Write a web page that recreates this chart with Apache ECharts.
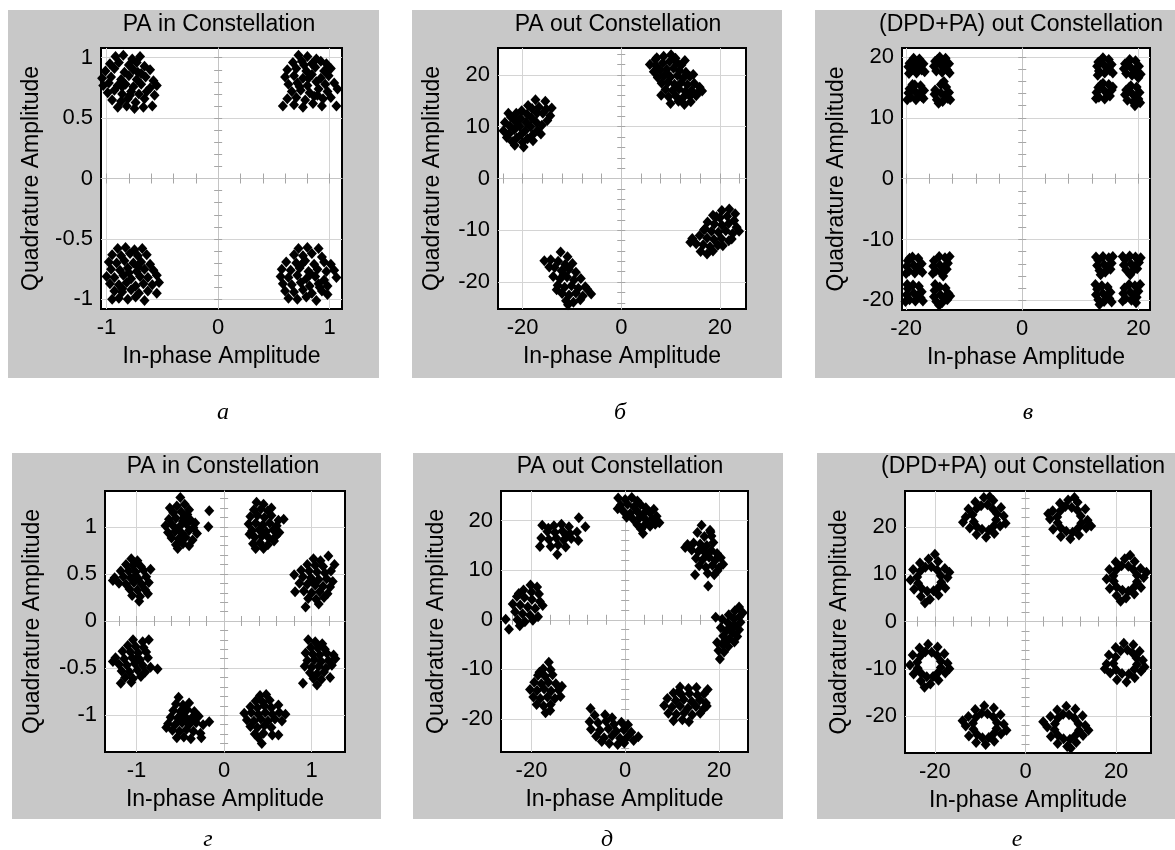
<!DOCTYPE html>
<html><head><meta charset="utf-8">
<script src="https://cdn.jsdelivr.net/npm/echarts@6/dist/echarts.min.js"></script>
<style>html,body{margin:0;padding:0;background:#fff}#c{width:1175px;height:850px}</style>
</head><body><div id="c"></div>
<script>
// ---------------- DATA ----------------
const titles = ['PA in Constellation','PA out Constellation','(DPD+PA) out Constellation','PA in Constellation','PA out Constellation','(DPD+PA) out Constellation'];
const captions = ['а','б','в','г','д','е'];
const xName = 'In-phase Amplitude';
const yName = 'Quadrature Amplitude';

// axis ranges [min,max]
const xRanges = [[-1.05,1.11],[-25,25.3],[-20.7,22.0],[-1.36,1.38],[-26.5,26.2],[-26.6,27.7]];
const yRanges = [[-1.08,1.08],[-25.2,25.2],[-21.6,21.5],[-1.39,1.38],[-26.7,26.0],[-27.8,27.6]];

// labelled ticks
const xLabelsA = [-1,0,1], yLabelsA = [-1,-0.5,0,0.5,1];
const xLabelsB = [-20,0,20], yLabelsB = [-20,-10,0,10,20];
const xLabelsV = [-20,0,20], yLabelsV = [-20,-10,0,10,20];
const xLabelsG = [-1,0,1], yLabelsG = [-1,-0.5,0,0.5,1];
const xLabelsD = [-20,0,20], yLabelsD = [-20,-10,0,10,20];
const xLabelsE = [-20,0,20], yLabelsE = [-20,-10,0,10,20];

// minor ticks on the centre cross
const xMinorA = [-1,-0.8,-0.6,-0.4,-0.2,0.2,0.4,0.6,0.8,1];
const yMinorA = [-1,-0.9,-0.8,-0.7,-0.6,-0.5,-0.4,-0.3,-0.2,-0.1,0.1,0.2,0.3,0.4,0.5,0.6,0.7,0.8,0.9,1];
const xMinorB = [-24,-20,-16,-12,-8,-4,4,8,12,16,20,24];
const yMinorB = [-24,-22,-20,-18,-16,-14,-12,-10,-8,-6,-4,-2,2,4,6,8,10,12,14,16,18,20,22,24];
const xMinorV = [-20,-16,-12,-8,-4,4,8,12,16,20];
const yMinorV = [-20,-18,-16,-14,-12,-10,-8,-6,-4,-2,2,4,6,8,10,12,14,16,18,20];
const xMinorG = [-1.2,-1,-0.8,-0.6,-0.4,-0.2,0.2,0.4,0.6,0.8,1,1.2];
const yMinorG = [-1.3,-1.2,-1.1,-1,-0.9,-0.8,-0.7,-0.6,-0.5,-0.4,-0.3,-0.2,-0.1,0.1,0.2,0.3,0.4,0.5,0.6,0.7,0.8,0.9,1,1.1,1.2,1.3];
const xMinorD = [-24,-20,-16,-12,-8,-4,4,8,12,16,20,24];
const yMinorD = [-26,-24,-22,-20,-18,-16,-14,-12,-10,-8,-6,-4,-2,2,4,6,8,10,12,14,16,18,20,22,24];
const xMinorE = [-24,-20,-16,-12,-8,-4,4,8,12,16,20,24];
const yMinorE = [-26,-24,-22,-20,-18,-16,-14,-12,-10,-8,-6,-4,-2,2,4,6,8,10,12,14,16,18,20,22,24,26];

// а : PA in (QPSK)
const ptsA = [
[-0.92,1.01],[-0.85,1.02],[-0.77,0.99],[-0.70,1.01],[-0.97,0.95],[-0.89,0.96],[-0.80,0.94],[-0.73,0.96],[-0.66,0.93],[-1.01,0.89],[-0.93,0.91],[-0.84,0.88],[-0.76,0.90],[-0.69,0.87],[-0.61,0.90],[-1.04,0.83],[-0.96,0.84],[-0.87,0.82],[-0.80,0.85],[-0.73,0.82],[-0.65,0.84],[-0.58,0.81],[-1.03,0.77],[-0.98,0.79],[-0.90,0.77],[-0.83,0.78],[-0.76,0.76],[-0.69,0.78],[-0.61,0.75],[-0.55,0.77],[-0.99,0.71],[-0.93,0.73],[-0.86,0.70],[-0.78,0.72],[-0.71,0.70],[-0.64,0.72],[-0.57,0.69],[-0.95,0.65],[-0.87,0.64],[-0.81,0.66],[-0.74,0.63],[-0.66,0.66],[-0.90,0.59],[-0.82,0.60],[-0.75,0.58],[-0.67,0.59],[-0.59,0.60],[-0.86,0.76],[-0.79,0.69],[-0.72,0.88],
[0.72,1.02],[0.80,1.01],[0.88,0.99],[0.67,0.96],[0.75,0.97],[0.84,0.95],[0.92,0.97],[0.62,0.90],[0.70,0.91],[0.79,0.89],[0.87,0.92],[0.95,0.89],[1.01,0.91],[0.60,0.84],[0.68,0.85],[0.76,0.83],[0.84,0.86],[0.92,0.83],[0.99,0.85],[0.63,0.78],[0.71,0.79],[0.80,0.77],[0.88,0.80],[0.96,0.78],[1.04,0.79],[0.66,0.72],[0.74,0.73],[0.82,0.71],[0.90,0.74],[0.98,0.72],[1.07,0.74],[0.62,0.66],[0.70,0.67],[0.78,0.65],[0.86,0.68],[0.94,0.66],[1.01,0.67],[0.58,0.60],[0.68,0.61],[0.76,0.59],[0.85,0.62],[0.93,0.60],[1.06,0.60],[0.81,0.83],[0.73,0.76],[0.89,0.69],[0.77,0.94],[0.97,0.95],
[-0.90,-0.58],[-0.83,-0.57],[-0.75,-0.59],[-0.68,-0.58],[-0.95,-0.63],[-0.87,-0.64],[-0.79,-0.62],[-0.72,-0.64],[-0.64,-0.63],[-0.98,-0.69],[-0.91,-0.70],[-0.84,-0.68],[-0.76,-0.70],[-0.69,-0.69],[-0.61,-0.71],[-0.96,-0.75],[-0.88,-0.76],[-0.81,-0.74],[-0.73,-0.77],[-0.66,-0.75],[-0.58,-0.76],[-1.00,-0.81],[-0.93,-0.82],[-0.85,-0.80],[-0.78,-0.83],[-0.70,-0.81],[-0.63,-0.82],[-0.55,-0.80],[-0.97,-0.87],[-0.89,-0.88],[-0.82,-0.86],[-0.74,-0.89],[-0.67,-0.87],[-0.59,-0.88],[-0.53,-0.86],[-0.93,-0.93],[-0.86,-0.94],[-0.78,-0.92],[-0.71,-0.95],[-0.63,-0.93],[-0.55,-0.95],[-0.89,-0.99],[-0.81,-1.00],[-0.74,-0.98],[-0.66,-1.01],[-0.95,-1.00],[-0.80,-0.78],[-0.72,-0.73],[-0.86,-0.91],
[0.72,-0.58],[0.80,-0.57],[0.90,-0.58],[0.68,-0.63],[0.76,-0.64],[0.84,-0.62],[0.93,-0.65],[0.61,-0.69],[0.70,-0.70],[0.78,-0.68],[0.86,-0.71],[0.95,-0.69],[0.57,-0.75],[0.65,-0.76],[0.73,-0.74],[0.81,-0.77],[0.89,-0.75],[0.97,-0.77],[1.04,-0.76],[0.56,-0.81],[0.63,-0.82],[0.71,-0.80],[0.79,-0.83],[0.87,-0.81],[0.95,-0.84],[1.06,-0.82],[0.58,-0.87],[0.66,-0.88],[0.74,-0.86],[0.82,-0.89],[0.90,-0.87],[0.98,-0.89],[0.60,-0.93],[0.68,-0.94],[0.76,-0.92],[0.84,-0.95],[0.93,-0.93],[0.63,-0.99],[0.71,-1.00],[0.79,-0.98],[0.88,-1.01],[0.98,-0.96],[0.83,-0.79],[0.75,-0.71],[0.91,-0.90],[1.01,-0.71]
];

// б : PA out
const ptsB = [
[7.2,23.3],[8.6,23.6],[10.1,23.9],[11.0,23.2],[5.8,22.0],[7.0,21.8],[8.4,22.3],[9.8,22.6],[11.3,22.4],[12.2,21.9],[6.6,20.6],[7.9,20.9],[9.2,21.1],[10.6,21.3],[11.8,20.8],[13.1,20.5],[7.4,19.5],[8.7,19.8],[10.0,19.6],[11.4,19.9],[12.6,19.4],[13.9,19.7],[8.2,18.4],[9.5,18.6],[10.8,18.2],[12.1,18.5],[13.4,18.1],[14.8,18.4],[15.9,17.6],[9.0,17.2],[10.4,17.0],[11.7,17.3],[13.0,16.8],[14.3,17.0],[15.5,16.5],[16.4,16.9],[9.6,15.8],[11.1,15.9],[12.5,15.6],[13.9,15.9],[15.2,16.0],[10.0,14.5],[11.6,14.9],[12.8,14.3],[9.3,20.3],[12.9,22.8],[14.6,20.1],[6.9,23.0],[8.1,16.1],[14.1,14.8],
[-23.6,10.8],[-23.9,9.2],[-23.2,7.9],[-22.4,11.9],[-22.6,10.1],[-22.8,8.6],[-22.1,7.1],[-21.3,12.6],[-21.5,11.0],[-21.7,9.4],[-21.2,7.8],[-21.6,6.4],[-20.2,13.1],[-20.4,11.6],[-20.6,10.1],[-20.3,8.5],[-20.0,7.0],[-19.1,12.4],[-19.3,10.8],[-19.5,9.2],[-19.0,7.7],[-18.1,13.5],[-18.2,11.7],[-18.4,10.0],[-18.0,8.4],[-17.1,12.6],[-17.3,10.9],[-17.0,9.3],[-16.3,8.6],[-17.4,15.2],[-16.7,13.8],[-15.9,12.6],[-15.4,14.9],[-15.2,13.4],[-14.4,12.1],[-14.1,13.6],[-15.0,11.2],[-16.1,10.3],[-18.9,14.1],[-22.9,12.6],[-19.8,6.1],[-17.9,7.3],
[20.4,-6.2],[21.9,-5.9],[23.1,-6.8],[18.6,-7.1],[20.0,-7.6],[21.5,-7.3],[22.9,-8.1],[17.5,-8.4],[18.9,-8.8],[20.4,-9.0],[21.8,-8.7],[23.4,-9.4],[16.8,-9.9],[18.3,-10.2],[19.7,-10.4],[21.2,-10.1],[22.6,-10.6],[23.9,-10.2],[15.9,-11.0],[17.4,-11.5],[18.8,-11.8],[20.3,-11.6],[21.8,-12.0],[14.4,-11.6],[15.2,-12.6],[16.6,-12.8],[18.0,-13.2],[19.6,-12.9],[16.1,-14.1],[17.4,-14.6],[14.0,-12.3],[19.3,-7.4],[22.4,-11.7],[20.6,-13.0],[17.0,-9.7],[18.6,-14.0],
[-12.3,-14.2],[-10.9,-15.1],[-15.6,-15.9],[-14.3,-15.7],[-12.8,-16.0],[-11.4,-16.6],[-13.5,-17.2],[-12.1,-17.8],[-10.6,-17.5],[-9.2,-18.1],[-13.8,-18.9],[-12.4,-19.4],[-11.0,-19.0],[-9.6,-19.6],[-8.2,-19.3],[-12.9,-20.6],[-11.5,-21.0],[-10.1,-20.7],[-8.7,-21.2],[-7.3,-20.9],[-12.0,-22.2],[-10.6,-22.5],[-9.2,-22.1],[-7.8,-22.7],[-6.1,-22.3],[-11.2,-23.6],[-9.7,-23.9],[-8.3,-23.4],[-10.8,-24.4],[-14.6,-17.1],[-13.1,-21.5],[-6.9,-21.4],[-9.9,-16.4],[-11.7,-18.5]
];

// в : (DPD+PA) out, 16-point pattern
const ptsV = [
[-19.4,19.0],[-18.7,19.8],[-17.7,19.7],[-17.0,18.9],[-17.3,17.9],[-18.2,17.4],[-19.1,17.8],[-19.6,18.4],[-18.5,18.7],[-17.8,18.4],[-18.9,19.4],[-18.1,19.2],[-16.8,17.6],[-19.5,17.3],
[-15.0,19.3],[-14.2,20.0],[-13.2,19.8],[-12.6,18.9],[-12.9,17.9],[-13.8,17.5],[-14.8,17.7],[-15.2,18.5],[-14.1,18.8],[-13.4,18.3],[-14.6,19.6],[-13.7,19.3],[-12.5,17.4],
[-19.4,14.8],[-18.5,15.4],[-17.5,15.3],[-16.9,14.5],[-17.3,13.5],[-18.3,13.0],[-19.2,13.4],[-19.6,14.1],[-18.4,14.3],[-17.7,14.0],[-18.9,15.5],[-17.0,13.2],[-19.8,13.0],
[-15.0,14.6],[-14.0,15.5],[-13.1,15.1],[-12.6,14.2],[-12.8,13.2],[-13.7,12.7],[-14.7,13.0],[-15.1,13.9],[-14.0,14.1],[-13.3,13.7],[-13.5,16.0],[-12.4,13.0],[-14.4,12.4],
[13.1,19.2],[13.9,19.9],[14.9,19.6],[15.4,18.8],[15.1,17.8],[14.2,17.4],[13.2,17.7],[12.9,18.5],[14.1,18.7],[14.8,18.2],[13.6,19.5],[15.6,17.4],[13.0,17.0],
[17.7,18.9],[18.5,19.6],[19.5,19.4],[20.1,18.5],[19.8,17.5],[18.9,17.0],[17.9,17.3],[17.5,18.1],[18.7,18.3],[19.4,17.9],[20.4,17.2],[18.3,19.2],[20.0,16.6],
[13.1,15.0],[13.9,15.7],[14.9,15.5],[15.4,14.6],[15.1,13.6],[14.2,13.1],[13.2,13.4],[12.8,14.2],[14.1,14.5],[14.8,14.0],[13.5,15.4],[12.7,13.2],[15.6,15.1],
[17.9,14.6],[18.7,15.3],[19.7,15.1],[20.2,14.2],[20.0,13.1],[19.1,12.6],[18.1,12.9],[17.7,13.8],[18.9,14.0],[19.6,13.6],[20.3,12.5],[18.4,15.0],[19.4,12.0],
[-19.7,-13.5],[-18.9,-12.9],[-17.9,-13.1],[-17.3,-14.0],[-17.6,-15.0],[-18.5,-15.5],[-19.5,-15.2],[-19.9,-14.4],[-18.7,-14.2],[-18.0,-14.6],[-19.4,-13.1],[-17.2,-15.4],[-20.0,-15.6],
[-15.2,-13.5],[-14.3,-12.8],[-13.3,-13.0],[-12.8,-13.9],[-13.0,-14.9],[-13.9,-15.5],[-14.9,-15.2],[-15.3,-14.4],[-14.2,-14.2],[-13.5,-14.6],[-12.5,-12.8],[-15.4,-15.6],[-13.6,-16.0],
[-19.7,-18.1],[-18.8,-17.5],[-17.8,-17.7],[-17.3,-18.6],[-17.5,-19.6],[-18.4,-20.1],[-19.4,-19.9],[-19.9,-19.1],[-18.7,-18.8],[-18.0,-19.2],[-19.8,-17.4],[-17.1,-20.1],[-20.1,-20.2],
[-15.1,-18.4],[-14.2,-17.8],[-13.2,-18.0],[-12.7,-18.9],[-12.9,-19.9],[-13.8,-20.4],[-14.8,-20.2],[-15.2,-19.4],[-14.1,-19.1],[-13.4,-19.5],[-12.4,-19.3],[-15.0,-17.4],[-14.3,-20.8],
[13.1,-13.4],[13.9,-12.8],[14.9,-13.0],[15.4,-13.9],[15.2,-14.9],[14.3,-15.4],[13.3,-15.1],[12.9,-14.3],[14.1,-14.1],[14.8,-14.5],[13.5,-15.8],[15.6,-12.8],[12.7,-12.9],
[17.7,-13.3],[18.5,-12.7],[19.5,-12.9],[20.1,-13.8],[19.8,-14.8],[18.9,-15.3],[17.9,-15.0],[17.5,-14.2],[18.7,-14.0],[19.4,-14.4],[20.4,-13.0],[17.3,-12.8],[18.6,-15.8],
[12.9,-18.2],[13.7,-17.6],[14.7,-17.8],[15.2,-18.7],[15.0,-19.7],[14.1,-20.2],[13.1,-19.9],[12.7,-19.1],[13.9,-18.9],[14.6,-19.3],[12.6,-17.4],[15.4,-20.3],[13.3,-20.7],
[17.6,-18.0],[18.4,-17.4],[19.4,-17.6],[20.0,-18.5],[19.7,-19.5],[18.8,-20.0],[17.8,-19.7],[17.4,-18.9],[18.6,-18.7],[19.3,-19.1],[20.3,-17.4],[17.3,-20.1],[19.6,-20.4]
];

// г : PA in (8PSK)
const ptsG = [
[-0.50,1.31],[-0.54,1.22],[-0.45,1.24],[-0.58,1.15],[-0.49,1.16],[-0.40,1.18],[-0.63,1.08],[-0.55,1.09],[-0.46,1.10],[-0.38,1.07],[-0.67,1.01],[-0.59,1.02],[-0.51,1.00],[-0.43,1.03],[-0.35,0.99],[-0.64,0.94],[-0.56,0.95],[-0.48,0.93],[-0.40,0.96],[-0.31,0.93],[-0.60,0.88],[-0.52,0.87],[-0.44,0.89],[-0.36,0.86],[-0.55,0.81],[-0.47,0.82],[-0.40,0.80],[-0.53,0.77],[-0.17,1.17],[-0.18,1.00],[-0.42,1.13],[-0.62,1.20],[-0.33,1.04],[-0.47,1.06],
[0.37,1.26],[0.45,1.24],[0.34,1.18],[0.42,1.19],[0.50,1.17],[0.30,1.11],[0.38,1.12],[0.46,1.10],[0.54,1.12],[0.62,1.07],[0.68,1.08],[0.28,1.03],[0.36,1.04],[0.44,1.02],[0.52,1.04],[0.60,1.01],[0.32,0.96],[0.40,0.97],[0.48,0.95],[0.56,0.97],[0.63,0.94],[0.35,0.89],[0.43,0.90],[0.51,0.88],[0.59,0.90],[0.33,0.82],[0.41,0.83],[0.50,0.81],[0.36,0.77],[0.45,0.77],[0.54,1.20],[0.29,0.92],[0.57,0.85],
[1.02,0.66],[1.10,0.64],[1.19,0.69],[0.95,0.60],[1.04,0.59],[1.13,0.58],[1.26,0.60],[0.88,0.54],[0.97,0.53],[1.06,0.52],[1.15,0.51],[1.22,0.53],[0.80,0.49],[0.90,0.47],[0.99,0.46],[1.08,0.44],[1.17,0.45],[1.24,0.42],[0.86,0.40],[0.95,0.39],[1.04,0.38],[1.13,0.37],[1.21,0.36],[0.81,0.31],[0.91,0.32],[1.00,0.30],[1.09,0.31],[1.18,0.29],[0.96,0.24],[1.05,0.23],[1.14,0.25],[0.93,0.15],[1.08,0.18],[1.01,0.43],
[0.96,-0.20],[1.04,-0.22],[1.12,-0.24],[0.99,-0.28],[1.07,-0.29],[1.15,-0.30],[0.93,-0.34],[1.01,-0.35],[1.09,-0.36],[1.17,-0.34],[1.25,-0.36],[0.95,-0.42],[1.03,-0.41],[1.11,-0.43],[1.19,-0.42],[1.27,-0.40],[0.92,-0.48],[1.00,-0.49],[1.08,-0.48],[1.16,-0.50],[1.23,-0.47],[0.98,-0.55],[1.06,-0.56],[1.14,-0.54],[1.02,-0.61],[1.11,-0.62],[1.21,-0.60],[0.90,-0.66],[1.06,-0.68],
[0.41,-0.79],[0.48,-0.78],[0.36,-0.85],[0.44,-0.86],[0.52,-0.84],[0.30,-0.91],[0.38,-0.92],[0.46,-0.90],[0.54,-0.92],[0.62,-0.89],[0.23,-0.98],[0.31,-0.97],[0.39,-0.99],[0.47,-0.97],[0.55,-0.99],[0.63,-0.97],[0.70,-0.99],[0.26,-1.05],[0.34,-1.06],[0.42,-1.04],[0.50,-1.06],[0.58,-1.04],[0.66,-1.06],[0.30,-1.12],[0.38,-1.13],[0.46,-1.11],[0.54,-1.13],[0.35,-1.20],[0.45,-1.19],[0.55,-1.21],[0.62,-1.21],[0.43,-1.30],[0.39,-1.24],
[-0.52,-0.81],[-0.55,-0.88],[-0.47,-0.89],[-0.40,-0.87],[-0.58,-0.95],[-0.50,-0.96],[-0.42,-0.94],[-0.34,-0.96],[-0.61,-1.02],[-0.53,-1.03],[-0.45,-1.01],[-0.37,-1.03],[-0.29,-1.01],[-0.64,-1.09],[-0.56,-1.10],[-0.48,-1.08],[-0.40,-1.10],[-0.32,-1.08],[-0.24,-1.10],[-0.17,-1.07],[-0.59,-1.16],[-0.51,-1.17],[-0.43,-1.15],[-0.35,-1.17],[-0.27,-1.19],[-0.54,-1.24],[-0.46,-1.23],[-0.38,-1.25],[-0.66,-1.13],[-0.26,-1.24],[-0.44,-1.05],
[-1.04,-0.20],[-0.93,-0.22],[-0.86,-0.20],[-1.10,-0.26],[-1.01,-0.27],[-0.92,-0.28],[-1.16,-0.32],[-1.07,-0.33],[-0.98,-0.34],[-0.89,-0.33],[-1.24,-0.39],[-1.14,-0.40],[-1.05,-0.39],[-0.96,-0.41],[-0.87,-0.39],[-1.20,-0.46],[-1.11,-0.47],[-1.02,-0.45],[-0.93,-0.47],[-0.84,-0.49],[-0.76,-0.51],[-1.17,-0.53],[-1.08,-0.54],[-0.99,-0.52],[-0.90,-0.54],[-1.13,-0.60],[-1.04,-0.61],[-0.95,-0.59],[-1.18,-0.66],[-1.06,-0.65],[-1.27,-0.43],[-1.00,-0.40],
[-1.06,0.66],[-0.99,0.64],[-1.12,0.60],[-1.04,0.59],[-0.95,0.58],[-1.18,0.53],[-1.09,0.53],[-1.01,0.52],[-0.92,0.54],[-0.84,0.55],[-1.25,0.46],[-1.15,0.47],[-1.07,0.46],[-0.98,0.45],[-0.89,0.47],[-1.20,0.40],[-1.12,0.39],[-1.03,0.41],[-0.94,0.39],[-0.86,0.41],[-1.08,0.34],[-0.99,0.33],[-0.90,0.33],[-1.05,0.27],[-0.96,0.26],[-0.87,0.29],[-0.97,0.21],[-1.27,0.43],[-1.01,0.48]
];

// д : PA out (8PSK)
const ptsD = [
[-1.5,24.6],[0.0,24.3],[1.4,24.7],[2.6,24.0],[-1.0,23.1],[0.5,23.3],[1.9,22.8],[3.3,23.2],[4.4,22.6],[-0.3,21.8],[1.1,21.5],[2.5,21.9],[3.9,21.4],[5.2,21.7],[6.1,22.3],[1.7,20.3],[3.1,20.6],[4.5,20.1],[5.8,20.4],[7.3,19.6],[2.6,19.2],[4.0,19.0],[5.3,18.9],[6.4,19.3],[3.8,17.4],[-1.6,22.4],[0.3,20.7],[3.4,18.3],[6.7,20.9],
[16.3,19.1],[18.1,18.1],[15.4,17.6],[16.9,16.8],[18.4,16.9],[13.3,15.2],[14.6,15.5],[16.0,15.3],[17.4,15.0],[18.8,15.6],[14.2,14.1],[15.6,13.8],[17.0,13.6],[18.4,14.0],[19.6,13.4],[15.1,12.4],[16.5,12.1],[17.9,12.6],[19.2,12.0],[20.4,12.5],[15.8,10.9],[17.2,10.6],[18.6,11.0],[20.0,10.5],[20.9,11.2],[17.6,9.4],[19.0,9.1],[14.9,9.1],[17.7,6.8],[12.8,14.6],[18.2,17.7],[16.2,14.4],[19.7,9.9],
[24.3,2.6],[25.1,1.4],[23.4,1.8],[24.4,0.6],[22.1,1.0],[23.2,0.2],[24.6,-0.5],[19.3,0.5],[20.7,0.1],[21.9,-0.6],[23.3,-1.1],[24.3,-2.0],[20.4,-1.6],[21.6,-2.2],[22.9,-2.6],[23.9,-3.4],[20.9,-3.3],[22.2,-3.9],[23.3,-4.5],[19.6,-4.6],[20.8,-5.0],[22.0,-5.4],[19.9,-6.2],[21.1,-6.5],[20.2,-7.9],[22.5,-1.9],[21.3,-4.2],
[11.7,-13.6],[13.5,-13.9],[15.2,-13.7],[17.6,-14.1],[10.3,-14.8],[12.0,-15.1],[13.7,-14.9],[15.4,-15.2],[16.8,-15.0],[9.0,-15.9],[10.8,-16.3],[12.5,-16.1],[14.2,-16.5],[15.9,-16.2],[17.2,-16.8],[8.3,-17.3],[10.0,-17.6],[11.7,-17.4],[13.4,-17.8],[15.1,-17.5],[16.7,-18.0],[9.2,-18.9],[10.9,-19.1],[12.6,-18.8],[14.3,-19.2],[16.0,-18.9],[10.3,-20.4],[12.2,-20.2],[13.6,-20.6],[17.4,-17.4],[11.4,-14.5],
[-7.4,-17.9],[-6.5,-19.3],[-4.3,-19.2],[-2.8,-19.8],[-7.6,-20.6],[-5.8,-20.8],[-4.1,-20.5],[-2.4,-21.1],[-0.8,-20.7],[0.6,-21.2],[-7.3,-22.1],[-5.4,-22.3],[-3.6,-22.0],[-1.9,-22.5],[-0.3,-22.2],[1.3,-22.7],[2.8,-23.6],[-6.2,-23.5],[-4.5,-23.8],[-2.8,-23.4],[-1.1,-23.9],[0.5,-23.6],[-3.4,-25.0],[-1.6,-25.2],[-0.2,-24.9],[-5.0,-24.6],[1.8,-24.4],
[-16.3,-8.6],[-17.5,-9.9],[-15.9,-10.1],[-18.6,-11.2],[-17.1,-11.4],[-15.5,-11.1],[-19.4,-12.6],[-17.9,-12.9],[-16.4,-12.6],[-14.8,-12.9],[-13.5,-13.4],[-20.3,-14.1],[-18.8,-14.3],[-17.3,-14.0],[-15.8,-14.4],[-14.2,-14.2],[-19.6,-15.6],[-18.1,-15.9],[-16.6,-15.6],[-15.0,-15.9],[-13.8,-15.5],[-18.9,-17.1],[-17.4,-17.4],[-15.9,-17.1],[-17.0,-18.8],[-16.0,-18.3],[-18.3,-10.6],
[-20.2,7.0],[-18.8,6.6],[-21.7,6.0],[-20.0,5.6],[-18.4,5.2],[-23.1,4.7],[-21.5,4.5],[-19.9,4.1],[-18.2,3.7],[-24.0,3.2],[-22.4,3.0],[-20.8,2.6],[-19.2,2.3],[-17.6,2.9],[-23.5,1.6],[-21.9,1.2],[-20.3,0.9],[-18.6,0.6],[-25.5,0.1],[-23.0,0.0],[-21.4,-0.4],[-19.7,-0.1],[-24.8,-1.9],[-22.5,-1.2],[-22.7,5.3],
[-9.9,20.6],[-17.7,19.1],[-15.2,19.0],[-13.6,19.3],[-12.0,18.8],[-8.5,18.8],[-16.6,17.8],[-15.0,17.6],[-13.4,17.9],[-11.8,17.4],[-10.3,17.7],[-17.9,16.5],[-16.3,16.2],[-14.7,16.5],[-13.1,16.1],[-11.5,16.4],[-10.0,16.0],[-18.2,14.8],[-15.9,14.8],[-14.3,15.1],[-12.7,14.7],[-14.5,13.2],[-16.4,18.5],[-12.6,17.0]
];

// е : (DPD+PA) out (8PSK, ring clusters)
const ptsE = [
[-4.8,22.3],[-5.4,24.1],[-7.1,25.6],[-9.2,26.2],[-11.1,25.3],[-12.6,23.8],[-13.2,22.1],[-12.3,19.8],[-10.8,18.4],[-8.7,17.8],[-6.9,18.6],[-5.6,20.2],[-6.3,22.8],[-7.2,23.8],[-8.4,24.7],[-9.8,24.5],[-10.8,23.9],[-11.7,22.6],[-11.4,21.1],[-10.7,20.0],[-9.6,19.5],[-8.1,19.3],[-7.0,20.2],[-6.5,21.5],[-7.9,26.4],[-13.8,21.0],[-4.4,20.8],
[13.7,21.4],[13.2,23.8],[11.5,25.2],[9.4,25.7],[7.6,25.0],[6.0,23.4],[5.4,21.7],[6.1,19.5],[7.8,18.0],[9.9,17.5],[11.8,18.3],[13.4,19.8],[12.2,22.3],[11.4,23.6],[10.2,24.1],[8.8,24.3],[7.7,23.4],[7.0,22.1],[7.1,20.9],[7.8,19.8],[9.0,19.1],[10.4,18.9],[11.6,19.7],[12.3,20.8],[14.5,20.2],[5.0,22.8],[10.8,26.2],
[26.1,9.3],[25.4,11.2],[24.1,12.7],[21.9,13.3],[19.9,12.6],[18.5,11.0],[17.9,9.0],[18.6,7.0],[20.1,5.5],[22.2,5.0],[24.0,5.8],[25.5,7.2],[24.6,9.8],[23.8,11.0],[22.7,11.7],[21.2,11.8],[20.1,11.0],[19.4,9.7],[19.5,8.5],[20.1,7.3],[21.4,6.6],[22.7,6.4],[23.9,7.2],[24.6,8.4],[23.1,14.0],[26.7,10.4],[21.0,4.3],
[25.9,-8.2],[25.2,-6.3],[23.8,-4.9],[21.7,-4.6],[19.9,-5.5],[18.4,-7.1],[17.9,-9.0],[18.7,-10.9],[20.2,-12.3],[22.3,-12.8],[24.1,-11.9],[25.5,-10.5],[24.5,-7.7],[23.6,-6.6],[22.5,-6.0],[21.0,-6.2],[19.9,-7.5],[19.4,-8.9],[20.0,-10.2],[21.3,-11.0],[22.8,-11.1],[24.0,-10.1],[24.6,-9.1],[26.3,-9.6],[17.5,-10.0],
[13.2,-22.0],[12.6,-19.9],[11.0,-18.5],[9.0,-17.9],[7.0,-18.7],[5.5,-20.1],[4.8,-22.3],[5.6,-24.3],[7.1,-25.8],[9.2,-26.4],[11.2,-25.6],[12.7,-24.1],[11.7,-21.6],[10.8,-20.4],[9.6,-19.7],[8.3,-19.6],[7.2,-20.4],[6.5,-21.6],[6.4,-22.9],[7.2,-24.1],[8.4,-24.8],[9.8,-24.9],[11.0,-24.1],[11.8,-23.0],[3.9,-21.2],[10.0,-26.8],[13.9,-23.0],
[-4.8,-21.7],[-5.5,-19.7],[-7.0,-18.3],[-9.1,-17.8],[-11.1,-18.6],[-12.6,-20.1],[-13.2,-22.1],[-12.5,-24.2],[-10.9,-25.6],[-8.8,-26.0],[-6.9,-25.3],[-5.4,-23.8],[-6.3,-21.4],[-7.1,-20.2],[-8.4,-19.5],[-9.7,-19.4],[-10.9,-20.2],[-11.6,-21.5],[-11.5,-22.8],[-10.7,-23.9],[-9.5,-24.6],[-8.1,-24.5],[-7.0,-23.7],[-6.4,-22.6],[-13.9,-21.0],[-4.2,-23.0],
[-17.2,-8.8],[-17.9,-6.8],[-19.4,-5.4],[-21.5,-4.8],[-23.4,-5.6],[-24.9,-7.1],[-25.5,-9.2],[-24.7,-11.1],[-23.1,-12.6],[-21.0,-13.2],[-19.2,-12.4],[-17.7,-10.9],[-18.7,-8.4],[-19.5,-7.2],[-20.7,-6.5],[-22.1,-6.4],[-23.2,-7.3],[-23.9,-8.6],[-23.8,-9.9],[-23.0,-11.0],[-21.8,-11.7],[-20.4,-11.6],[-19.3,-10.8],[-18.7,-9.7],[-22.3,-13.9],[-16.8,-10.0],
[-17.2,9.3],[-17.8,11.2],[-19.3,12.7],[-21.4,13.2],[-23.3,12.4],[-24.8,11.0],[-25.4,8.8],[-24.6,6.8],[-23.1,5.3],[-21.1,4.7],[-19.2,5.6],[-17.7,7.1],[-18.7,9.7],[-19.5,10.9],[-20.8,11.6],[-22.1,11.5],[-23.2,10.7],[-23.9,9.4],[-23.7,8.1],[-22.9,7.0],[-21.7,6.4],[-20.3,6.5],[-19.2,7.2],[-18.6,8.3],[-20.0,14.2],[-16.8,10.4],[-22.2,3.9]
];

// ---------------- LAYOUT / STYLE ----------------
const FONT = '"Liberation Sans", Arial, Helvetica, sans-serif';
const layout = [
  {grid:{left:101,top:48,width:241,height:261}, panel:[8,10,371,368],  title:[219,25],  caption:[223,413], yGap:58},
  {grid:{left:498,top:48,width:248,height:261}, panel:[412,10,370,368], title:[618,25],  caption:[620,413], yGap:54},
  {grid:{left:902,top:48,width:248,height:262}, panel:[815,10,360,368], title:[1021,25], caption:[1028,413], yGap:54},
  {grid:{left:105,top:491,width:240,height:261}, panel:[12,453,369,366], title:[223,467], caption:[208,840], yGap:61},
  {grid:{left:501,top:491,width:247,height:261}, panel:[413,453,370,366], title:[620,467], caption:[607,840], yGap:53},
  {grid:{left:905,top:491,width:246,height:262}, panel:[817,453,358,366], title:[1023,467], caption:[1017,840], yGap:54}
];
const points = [ptsA, ptsB, ptsV, ptsG, ptsD, ptsE];
const xLabels = [xLabelsA, xLabelsB, xLabelsV, xLabelsG, xLabelsD, xLabelsE];
const yLabels = [yLabelsA, yLabelsB, yLabelsV, yLabelsG, yLabelsD, yLabelsE];
const xMinor = [xMinorA, xMinorB, xMinorV, xMinorG, xMinorD, xMinorE];
const yMinor = [yMinorA, yMinorB, yMinorV, yMinorG, yMinorD, yMinorE];

const GRIDC = '#d4d4d4', CROSSC = '#c4c4c4', TICKC = '#a6a6a6';

const grids = [], xAxes = [], yAxes = [], series = [], graphics = [];
layout.forEach((L, i) => {
  grids.push(Object.assign({show:true, backgroundColor:'#fff', borderColor:'#000', borderWidth:2, containLabel:false, outerBoundsMode:'none'}, L.grid));
  const xr = xRanges[i], yr = yRanges[i];
  xAxes.push({gridIndex:i, type:'value', min:xr[0], max:xr[1], position:'bottom',
    name:xName, nameLocation:'middle', nameGap:36,
    nameTextStyle:{fontSize:23, color:'#000', fontFamily:FONT},
    axisLine:{show:false, onZero:false},
    axisTick:{show:false, customValues:xLabels[i]},
    axisLabel:{customValues:xLabels[i], fontSize:22, color:'#000', fontFamily:FONT, margin:8},
    splitLine:{show:true, customValues:xLabels[i], lineStyle:{color:GRIDC, width:1}}});
  xAxes.push({gridIndex:i, type:'value', min:xr[0], max:xr[1],
    axisLine:{show:true, onZero:true, lineStyle:{color:CROSSC, width:1}},
    axisTick:{show:true, customValues:xMinor[i], length:5, inside:false, lineStyle:{color:TICKC}},
    axisLabel:{show:false}, splitLine:{show:false}});
  xAxes.push({gridIndex:i, type:'value', min:xr[0], max:xr[1],
    axisLine:{show:false, onZero:true},
    axisTick:{show:true, customValues:xMinor[i], length:5, inside:true, lineStyle:{color:TICKC}},
    axisLabel:{show:false}, splitLine:{show:false}});

  yAxes.push({gridIndex:i, type:'value', min:yr[0], max:yr[1], position:'left',
    name:yName, nameLocation:'middle', nameGap:L.yGap,
    nameTextStyle:{fontSize:23, color:'#000', fontFamily:FONT},
    axisLine:{show:false, onZero:false},
    axisTick:{show:false, customValues:yLabels[i]},
    axisLabel:{customValues:yLabels[i], fontSize:22, color:'#000', fontFamily:FONT, margin:8},
    splitLine:{show:true, customValues:yLabels[i], lineStyle:{color:GRIDC, width:1}}});
  yAxes.push({gridIndex:i, type:'value', min:yr[0], max:yr[1],
    axisLine:{show:true, onZero:true, lineStyle:{color:CROSSC, width:1}},
    axisTick:{show:true, customValues:yMinor[i], length:4, inside:false, lineStyle:{color:TICKC}},
    axisLabel:{show:false}, splitLine:{show:false}});
  yAxes.push({gridIndex:i, type:'value', min:yr[0], max:yr[1],
    axisLine:{show:false, onZero:true},
    axisTick:{show:true, customValues:yMinor[i], length:4, inside:true, lineStyle:{color:TICKC}},
    axisLabel:{show:false}, splitLine:{show:false}});

  series.push({type:'scatter', xAxisIndex:3*i, yAxisIndex:3*i, data:points[i],
    symbol:'diamond', symbolSize:[10,11], itemStyle:{color:'#000', opacity:1},
    silent:true, animation:false, z:5});

  const P = L.panel;
  graphics.push({type:'rect', shape:{x:P[0], y:P[1], width:P[2], height:P[3]}, style:{fill:'#c8c8c8'}, z:-100, silent:true});
  graphics.push({type:'text', x:L.title[0], y:L.title[1], z:10, silent:true,
    style:{text:titles[i], fill:'#000', font:'23px '+FONT, align:'center', verticalAlign:'middle', textAlign:'center', textVerticalAlign:'middle'}});
  graphics.push({type:'text', x:L.caption[0], y:L.caption[1], z:10, silent:true,
    style:{text:captions[i], fill:'#000', font:'italic 24px "Liberation Serif", "Times New Roman", serif', align:'center', verticalAlign:'middle', textAlign:'center', textVerticalAlign:'middle'}});
});

const chart = echarts.init(document.getElementById('c'), null, {renderer:'canvas', width:1175, height:850});
chart.setOption({
  backgroundColor:'#fff',
  animation:false,
  grid:grids, xAxis:xAxes, yAxis:yAxes, series:series,
  graphic:{elements:graphics}
});
</script></body></html>
